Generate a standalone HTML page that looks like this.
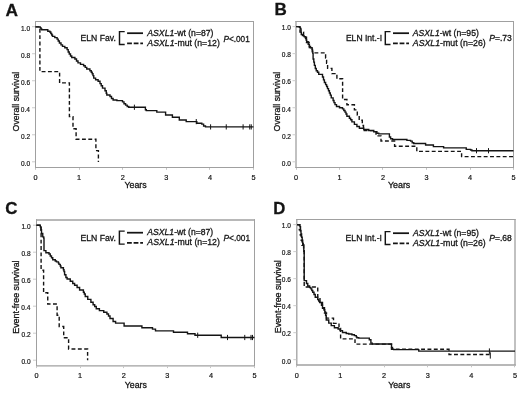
<!DOCTYPE html>
<html><head><meta charset="utf-8"><style>
html,body{margin:0;padding:0;background:#fff;}
svg{display:block;will-change:transform;}
text{font-family:"Liberation Sans",sans-serif;}
</style></head><body>
<svg width="520" height="393" viewBox="0 0 520 393">
<rect width="520" height="393" fill="#fff"/>
<text transform="translate(5.47,15.90) scale(1.0008,1)" font-size="17.3" fill="#141414" stroke="#141414" stroke-width="0.3"><tspan font-weight="bold">A</tspan></text>
<text transform="translate(274.39,15.10) scale(0.9855,1)" font-size="17.3" fill="#141414" stroke="#141414" stroke-width="0.3"><tspan font-weight="bold">B</tspan></text>
<text transform="translate(5.22,213.70) scale(0.9796,1)" font-size="17.3" fill="#141414" stroke="#141414" stroke-width="0.3"><tspan font-weight="bold">C</tspan></text>
<text transform="translate(273.21,213.70) scale(0.9681,1)" font-size="17.3" fill="#141414" stroke="#141414" stroke-width="0.3"><tspan font-weight="bold">D</tspan></text>
<line x1="35.5" y1="21.0" x2="35.5" y2="168.0" stroke="#a0a0a0" stroke-width="1"/>
<line x1="253.5" y1="21.0" x2="253.5" y2="168.0" stroke="#a0a0a0" stroke-width="1"/>
<line x1="35.0" y1="21.5" x2="254.0" y2="21.5" stroke="#a0a0a0" stroke-width="1"/>
<line x1="35.0" y1="167.5" x2="254.0" y2="167.5" stroke="#a0a0a0" stroke-width="1"/>
<line x1="35.5" y1="168.0" x2="35.5" y2="169.8" stroke="#c4c4c4" stroke-width="1"/>
<text transform="translate(33.47,179.60) scale(1.0000,1)" font-size="7.3" fill="#141414" stroke="#141414" stroke-width="0.2"><tspan>0</tspan></text>
<line x1="79.5" y1="168.0" x2="79.5" y2="169.8" stroke="#c4c4c4" stroke-width="1"/>
<text transform="translate(76.98,179.60) scale(1.0000,1)" font-size="7.3" fill="#141414" stroke="#141414" stroke-width="0.2"><tspan>1</tspan></text>
<line x1="122.5" y1="168.0" x2="122.5" y2="169.8" stroke="#c4c4c4" stroke-width="1"/>
<text transform="translate(120.67,179.60) scale(1.0000,1)" font-size="7.3" fill="#141414" stroke="#141414" stroke-width="0.2"><tspan>2</tspan></text>
<line x1="166.5" y1="168.0" x2="166.5" y2="169.8" stroke="#c4c4c4" stroke-width="1"/>
<text transform="translate(164.29,179.60) scale(1.0000,1)" font-size="7.3" fill="#141414" stroke="#141414" stroke-width="0.2"><tspan>3</tspan></text>
<line x1="209.5" y1="168.0" x2="209.5" y2="169.8" stroke="#c4c4c4" stroke-width="1"/>
<text transform="translate(207.89,179.60) scale(1.0000,1)" font-size="7.3" fill="#141414" stroke="#141414" stroke-width="0.2"><tspan>4</tspan></text>
<line x1="253.5" y1="168.0" x2="253.5" y2="169.8" stroke="#c4c4c4" stroke-width="1"/>
<text transform="translate(251.47,179.60) scale(1.0000,1)" font-size="7.3" fill="#141414" stroke="#141414" stroke-width="0.2"><tspan>5</tspan></text>
<line x1="32.0" y1="161.8" x2="35.0" y2="161.8" stroke="#cccccc" stroke-width="1"/>
<text transform="translate(20.93,165.60) scale(0.9000,1)" font-size="7.3" fill="#141414" stroke="#141414" stroke-width="0.2"><tspan>0.0</tspan></text>
<line x1="32.0" y1="134.78" x2="35.0" y2="134.78" stroke="#cccccc" stroke-width="1"/>
<text transform="translate(21.00,138.58) scale(0.9000,1)" font-size="7.3" fill="#141414" stroke="#141414" stroke-width="0.2"><tspan>0.2</tspan></text>
<line x1="32.0" y1="107.75999999999999" x2="35.0" y2="107.75999999999999" stroke="#cccccc" stroke-width="1"/>
<text transform="translate(20.86,111.56) scale(0.9000,1)" font-size="7.3" fill="#141414" stroke="#141414" stroke-width="0.2"><tspan>0.4</tspan></text>
<line x1="32.0" y1="80.73999999999998" x2="35.0" y2="80.73999999999998" stroke="#cccccc" stroke-width="1"/>
<text transform="translate(20.96,84.54) scale(0.9000,1)" font-size="7.3" fill="#141414" stroke="#141414" stroke-width="0.2"><tspan>0.6</tspan></text>
<line x1="32.0" y1="53.719999999999985" x2="35.0" y2="53.719999999999985" stroke="#cccccc" stroke-width="1"/>
<text transform="translate(20.93,57.52) scale(0.9000,1)" font-size="7.3" fill="#141414" stroke="#141414" stroke-width="0.2"><tspan>0.8</tspan></text>
<line x1="32.0" y1="26.69999999999999" x2="35.0" y2="26.69999999999999" stroke="#cccccc" stroke-width="1"/>
<text transform="translate(20.93,30.50) scale(0.9000,1)" font-size="7.3" fill="#141414" stroke="#141414" stroke-width="0.2"><tspan>1.0</tspan></text>
<text transform="translate(19.30,131.39) rotate(-90) scale(0.9592,1)" font-size="9.1" fill="#141414" stroke="#141414" stroke-width="0.3"><tspan>Overall survival</tspan></text>
<text transform="translate(124.48,187.70) scale(0.9694,1)" font-size="9.1" fill="#141414" stroke="#141414" stroke-width="0.3"><tspan>Years</tspan></text>
<line x1="296.0" y1="21.0" x2="296.0" y2="168.0" stroke="#a0a0a0" stroke-width="1.3"/>
<line x1="513.5" y1="21.0" x2="513.5" y2="168.0" stroke="#a0a0a0" stroke-width="1"/>
<line x1="295.35" y1="21.5" x2="514.0" y2="21.5" stroke="#a0a0a0" stroke-width="1"/>
<line x1="295.35" y1="167.5" x2="514.0" y2="167.5" stroke="#a0a0a0" stroke-width="1"/>
<line x1="296.5" y1="168.0" x2="296.5" y2="169.8" stroke="#c4c4c4" stroke-width="1"/>
<text transform="translate(293.97,179.60) scale(1.0000,1)" font-size="7.3" fill="#141414" stroke="#141414" stroke-width="0.2"><tspan>0</tspan></text>
<line x1="339.5" y1="168.0" x2="339.5" y2="169.8" stroke="#c4c4c4" stroke-width="1"/>
<text transform="translate(337.38,179.60) scale(1.0000,1)" font-size="7.3" fill="#141414" stroke="#141414" stroke-width="0.2"><tspan>1</tspan></text>
<line x1="382.5" y1="168.0" x2="382.5" y2="169.8" stroke="#c4c4c4" stroke-width="1"/>
<text transform="translate(380.97,179.60) scale(1.0000,1)" font-size="7.3" fill="#141414" stroke="#141414" stroke-width="0.2"><tspan>2</tspan></text>
<line x1="426.5" y1="168.0" x2="426.5" y2="169.8" stroke="#c4c4c4" stroke-width="1"/>
<text transform="translate(424.49,179.60) scale(1.0000,1)" font-size="7.3" fill="#141414" stroke="#141414" stroke-width="0.2"><tspan>3</tspan></text>
<line x1="470.5" y1="168.0" x2="470.5" y2="169.8" stroke="#c4c4c4" stroke-width="1"/>
<text transform="translate(467.99,179.60) scale(1.0000,1)" font-size="7.3" fill="#141414" stroke="#141414" stroke-width="0.2"><tspan>4</tspan></text>
<line x1="513.5" y1="168.0" x2="513.5" y2="169.8" stroke="#c4c4c4" stroke-width="1"/>
<text transform="translate(511.47,179.60) scale(1.0000,1)" font-size="7.3" fill="#141414" stroke="#141414" stroke-width="0.2"><tspan>5</tspan></text>
<line x1="292.5" y1="161.8" x2="295.5" y2="161.8" stroke="#cccccc" stroke-width="1"/>
<text transform="translate(281.83,165.60) scale(0.9000,1)" font-size="7.3" fill="#141414" stroke="#141414" stroke-width="0.2"><tspan>0.0</tspan></text>
<line x1="292.5" y1="134.76" x2="295.5" y2="134.76" stroke="#cccccc" stroke-width="1"/>
<text transform="translate(281.90,138.56) scale(0.9000,1)" font-size="7.3" fill="#141414" stroke="#141414" stroke-width="0.2"><tspan>0.2</tspan></text>
<line x1="292.5" y1="107.72" x2="295.5" y2="107.72" stroke="#cccccc" stroke-width="1"/>
<text transform="translate(281.76,111.52) scale(0.9000,1)" font-size="7.3" fill="#141414" stroke="#141414" stroke-width="0.2"><tspan>0.4</tspan></text>
<line x1="292.5" y1="80.67999999999999" x2="295.5" y2="80.67999999999999" stroke="#cccccc" stroke-width="1"/>
<text transform="translate(281.86,84.48) scale(0.9000,1)" font-size="7.3" fill="#141414" stroke="#141414" stroke-width="0.2"><tspan>0.6</tspan></text>
<line x1="292.5" y1="53.639999999999986" x2="295.5" y2="53.639999999999986" stroke="#cccccc" stroke-width="1"/>
<text transform="translate(281.83,57.44) scale(0.9000,1)" font-size="7.3" fill="#141414" stroke="#141414" stroke-width="0.2"><tspan>0.8</tspan></text>
<line x1="292.5" y1="26.599999999999994" x2="295.5" y2="26.599999999999994" stroke="#cccccc" stroke-width="1"/>
<text transform="translate(281.83,30.40) scale(0.9000,1)" font-size="7.3" fill="#141414" stroke="#141414" stroke-width="0.2"><tspan>1.0</tspan></text>
<text transform="translate(280.20,131.39) rotate(-90) scale(0.9592,1)" font-size="9.1" fill="#141414" stroke="#141414" stroke-width="0.3"><tspan>Overall survival</tspan></text>
<text transform="translate(387.88,187.70) scale(0.9783,1)" font-size="9.1" fill="#141414" stroke="#141414" stroke-width="0.3"><tspan>Years</tspan></text>
<line x1="36.5" y1="219.2" x2="36.5" y2="366.45" stroke="#a0a0a0" stroke-width="1"/>
<line x1="254.5" y1="219.2" x2="254.5" y2="366.45" stroke="#a0a0a0" stroke-width="1"/>
<line x1="36.0" y1="220.0" x2="255.0" y2="220.0" stroke="#a0a0a0" stroke-width="1.6"/>
<line x1="36.0" y1="365.8" x2="255.0" y2="365.8" stroke="#a0a0a0" stroke-width="1.3"/>
<line x1="36.5" y1="366.3" x2="36.5" y2="368.1" stroke="#c4c4c4" stroke-width="1"/>
<text transform="translate(34.47,377.70) scale(1.0000,1)" font-size="7.3" fill="#141414" stroke="#141414" stroke-width="0.2"><tspan>0</tspan></text>
<line x1="80.5" y1="366.3" x2="80.5" y2="368.1" stroke="#c4c4c4" stroke-width="1"/>
<text transform="translate(77.98,377.70) scale(1.0000,1)" font-size="7.3" fill="#141414" stroke="#141414" stroke-width="0.2"><tspan>1</tspan></text>
<line x1="123.5" y1="366.3" x2="123.5" y2="368.1" stroke="#c4c4c4" stroke-width="1"/>
<text transform="translate(121.67,377.70) scale(1.0000,1)" font-size="7.3" fill="#141414" stroke="#141414" stroke-width="0.2"><tspan>2</tspan></text>
<line x1="167.5" y1="366.3" x2="167.5" y2="368.1" stroke="#c4c4c4" stroke-width="1"/>
<text transform="translate(165.29,377.70) scale(1.0000,1)" font-size="7.3" fill="#141414" stroke="#141414" stroke-width="0.2"><tspan>3</tspan></text>
<line x1="210.5" y1="366.3" x2="210.5" y2="368.1" stroke="#c4c4c4" stroke-width="1"/>
<text transform="translate(208.89,377.70) scale(1.0000,1)" font-size="7.3" fill="#141414" stroke="#141414" stroke-width="0.2"><tspan>4</tspan></text>
<line x1="254.5" y1="366.3" x2="254.5" y2="368.1" stroke="#c4c4c4" stroke-width="1"/>
<text transform="translate(252.47,377.70) scale(1.0000,1)" font-size="7.3" fill="#141414" stroke="#141414" stroke-width="0.2"><tspan>5</tspan></text>
<line x1="33.0" y1="360.2" x2="36.0" y2="360.2" stroke="#cccccc" stroke-width="1"/>
<text transform="translate(21.43,364.00) scale(0.9000,1)" font-size="7.3" fill="#141414" stroke="#141414" stroke-width="0.2"><tspan>0.0</tspan></text>
<line x1="33.0" y1="333.2" x2="36.0" y2="333.2" stroke="#cccccc" stroke-width="1"/>
<text transform="translate(21.50,337.00) scale(0.9000,1)" font-size="7.3" fill="#141414" stroke="#141414" stroke-width="0.2"><tspan>0.2</tspan></text>
<line x1="33.0" y1="306.2" x2="36.0" y2="306.2" stroke="#cccccc" stroke-width="1"/>
<text transform="translate(21.36,310.00) scale(0.9000,1)" font-size="7.3" fill="#141414" stroke="#141414" stroke-width="0.2"><tspan>0.4</tspan></text>
<line x1="33.0" y1="279.2" x2="36.0" y2="279.2" stroke="#cccccc" stroke-width="1"/>
<text transform="translate(21.46,283.00) scale(0.9000,1)" font-size="7.3" fill="#141414" stroke="#141414" stroke-width="0.2"><tspan>0.6</tspan></text>
<line x1="33.0" y1="252.2" x2="36.0" y2="252.2" stroke="#cccccc" stroke-width="1"/>
<text transform="translate(21.43,256.00) scale(0.9000,1)" font-size="7.3" fill="#141414" stroke="#141414" stroke-width="0.2"><tspan>0.8</tspan></text>
<line x1="33.0" y1="225.2" x2="36.0" y2="225.2" stroke="#cccccc" stroke-width="1"/>
<text transform="translate(21.43,229.00) scale(0.9000,1)" font-size="7.3" fill="#141414" stroke="#141414" stroke-width="0.2"><tspan>1.0</tspan></text>
<text transform="translate(19.30,333.71) rotate(-90) scale(0.9726,1)" font-size="9.1" fill="#141414" stroke="#141414" stroke-width="0.3"><tspan>Event-free survival</tspan></text>
<text transform="translate(124.78,388.10) scale(0.9649,1)" font-size="9.1" fill="#141414" stroke="#141414" stroke-width="0.3"><tspan>Years</tspan></text>
<line x1="296.8" y1="219.0" x2="296.8" y2="365.65" stroke="#a0a0a0" stroke-width="1.3"/>
<line x1="515.0" y1="219.0" x2="515.0" y2="365.65" stroke="#a0a0a0" stroke-width="1.3"/>
<line x1="296.15000000000003" y1="219.5" x2="515.65" y2="219.5" stroke="#a0a0a0" stroke-width="1"/>
<line x1="296.15000000000003" y1="365.0" x2="515.65" y2="365.0" stroke="#a0a0a0" stroke-width="1.3"/>
<line x1="296.5" y1="365.5" x2="296.5" y2="367.3" stroke="#c4c4c4" stroke-width="1"/>
<text transform="translate(294.77,377.70) scale(1.0000,1)" font-size="7.3" fill="#141414" stroke="#141414" stroke-width="0.2"><tspan>0</tspan></text>
<line x1="340.5" y1="365.5" x2="340.5" y2="367.3" stroke="#c4c4c4" stroke-width="1"/>
<text transform="translate(338.32,377.70) scale(1.0000,1)" font-size="7.3" fill="#141414" stroke="#141414" stroke-width="0.2"><tspan>1</tspan></text>
<line x1="384.5" y1="365.5" x2="384.5" y2="367.3" stroke="#c4c4c4" stroke-width="1"/>
<text transform="translate(382.05,377.70) scale(1.0000,1)" font-size="7.3" fill="#141414" stroke="#141414" stroke-width="0.2"><tspan>2</tspan></text>
<line x1="427.5" y1="365.5" x2="427.5" y2="367.3" stroke="#c4c4c4" stroke-width="1"/>
<text transform="translate(425.71,377.70) scale(1.0000,1)" font-size="7.3" fill="#141414" stroke="#141414" stroke-width="0.2"><tspan>3</tspan></text>
<line x1="471.5" y1="365.5" x2="471.5" y2="367.3" stroke="#c4c4c4" stroke-width="1"/>
<text transform="translate(469.35,377.70) scale(1.0000,1)" font-size="7.3" fill="#141414" stroke="#141414" stroke-width="0.2"><tspan>4</tspan></text>
<line x1="514.5" y1="365.5" x2="514.5" y2="367.3" stroke="#c4c4c4" stroke-width="1"/>
<text transform="translate(512.97,377.70) scale(1.0000,1)" font-size="7.3" fill="#141414" stroke="#141414" stroke-width="0.2"><tspan>5</tspan></text>
<line x1="293.3" y1="359.7" x2="296.3" y2="359.7" stroke="#cccccc" stroke-width="1"/>
<text transform="translate(281.83,363.50) scale(0.9000,1)" font-size="7.3" fill="#141414" stroke="#141414" stroke-width="0.2"><tspan>0.0</tspan></text>
<line x1="293.3" y1="332.68" x2="296.3" y2="332.68" stroke="#cccccc" stroke-width="1"/>
<text transform="translate(281.90,336.48) scale(0.9000,1)" font-size="7.3" fill="#141414" stroke="#141414" stroke-width="0.2"><tspan>0.2</tspan></text>
<line x1="293.3" y1="305.65999999999997" x2="296.3" y2="305.65999999999997" stroke="#cccccc" stroke-width="1"/>
<text transform="translate(281.76,309.46) scale(0.9000,1)" font-size="7.3" fill="#141414" stroke="#141414" stroke-width="0.2"><tspan>0.4</tspan></text>
<line x1="293.3" y1="278.64" x2="296.3" y2="278.64" stroke="#cccccc" stroke-width="1"/>
<text transform="translate(281.86,282.44) scale(0.9000,1)" font-size="7.3" fill="#141414" stroke="#141414" stroke-width="0.2"><tspan>0.6</tspan></text>
<line x1="293.3" y1="251.62" x2="296.3" y2="251.62" stroke="#cccccc" stroke-width="1"/>
<text transform="translate(281.83,255.42) scale(0.9000,1)" font-size="7.3" fill="#141414" stroke="#141414" stroke-width="0.2"><tspan>0.8</tspan></text>
<line x1="293.3" y1="224.6" x2="296.3" y2="224.6" stroke="#cccccc" stroke-width="1"/>
<text transform="translate(281.83,228.40) scale(0.9000,1)" font-size="7.3" fill="#141414" stroke="#141414" stroke-width="0.2"><tspan>1.0</tspan></text>
<text transform="translate(280.80,333.21) rotate(-90) scale(0.9699,1)" font-size="9.1" fill="#141414" stroke="#141414" stroke-width="0.3"><tspan>Event-free survival</tspan></text>
<text transform="translate(388.18,388.10) scale(0.9649,1)" font-size="9.1" fill="#141414" stroke="#141414" stroke-width="0.3"><tspan>Years</tspan></text>
<text transform="translate(80.61,40.70) scale(0.9447,1)" font-size="9.1" fill="#141414" stroke="#141414" stroke-width="0.3"><tspan>ELN Fav.</tspan></text>
<path d="M124.7,31.6 H119.5 V44.4 H124.7" fill="none" stroke="#141414" stroke-width="1.45"/>
<line x1="127.1" y1="33.2" x2="143.0" y2="33.2" stroke="#141414" stroke-width="1.75"/>
<line x1="127.1" y1="43.3" x2="143.0" y2="43.3" stroke="#141414" stroke-width="1.75" stroke-dasharray="4.8 1.8"/>
<text transform="translate(147.33,36.10) scale(0.9520,1)" font-size="9.1" fill="#141414" stroke="#141414" stroke-width="0.3"><tspan font-style="italic">ASXL1</tspan><tspan>-wt (n=87)</tspan></text>
<text transform="translate(147.34,46.20) scale(0.9591,1)" font-size="9.1" fill="#141414" stroke="#141414" stroke-width="0.3"><tspan font-style="italic">ASXL1</tspan><tspan>-mut (n=12)</tspan></text>
<text transform="translate(223.55,41.50) scale(0.8996,1)" font-size="9.1" fill="#141414" stroke="#141414" stroke-width="0.3"><tspan font-style="italic">P</tspan><tspan>&lt;.001</tspan></text>
<text transform="translate(345.91,40.70) scale(0.9415,1)" font-size="9.1" fill="#141414" stroke="#141414" stroke-width="0.3"><tspan>ELN Int.-I</tspan></text>
<path d="M390.5,31.6 H385.3 V44.5 H390.5" fill="none" stroke="#141414" stroke-width="1.45"/>
<line x1="393.0" y1="33.2" x2="409.0" y2="33.2" stroke="#141414" stroke-width="1.75"/>
<line x1="393.0" y1="43.3" x2="409.0" y2="43.3" stroke="#141414" stroke-width="1.75" stroke-dasharray="4.8 1.8"/>
<text transform="translate(412.83,35.70) scale(0.9506,1)" font-size="9.1" fill="#141414" stroke="#141414" stroke-width="0.3"><tspan font-style="italic">ASXL1</tspan><tspan>-wt (n=95)</tspan></text>
<text transform="translate(412.84,45.90) scale(0.9644,1)" font-size="9.1" fill="#141414" stroke="#141414" stroke-width="0.3"><tspan font-style="italic">ASXL1</tspan><tspan>-mut (n=26)</tspan></text>
<text transform="translate(489.24,41.10) scale(0.9382,1)" font-size="9.1" fill="#141414" stroke="#141414" stroke-width="0.3"><tspan font-style="italic">P</tspan><tspan>=.73</tspan></text>
<text transform="translate(80.51,240.50) scale(0.9531,1)" font-size="9.1" fill="#141414" stroke="#141414" stroke-width="0.3"><tspan>ELN Fav.</tspan></text>
<path d="M124.7,231.1 H119.4 V244.1 H124.7" fill="none" stroke="#141414" stroke-width="1.45"/>
<line x1="127.0" y1="232.7" x2="143.0" y2="232.7" stroke="#141414" stroke-width="1.75"/>
<line x1="127.0" y1="242.9" x2="143.0" y2="242.9" stroke="#141414" stroke-width="1.75" stroke-dasharray="4.8 1.8"/>
<text transform="translate(147.33,235.10) scale(0.9477,1)" font-size="9.1" fill="#141414" stroke="#141414" stroke-width="0.3"><tspan font-style="italic">ASXL1</tspan><tspan>-wt (n=87)</tspan></text>
<text transform="translate(147.34,245.20) scale(0.9605,1)" font-size="9.1" fill="#141414" stroke="#141414" stroke-width="0.3"><tspan font-style="italic">ASXL1</tspan><tspan>-mut (n=12)</tspan></text>
<text transform="translate(223.55,240.60) scale(0.9137,1)" font-size="9.1" fill="#141414" stroke="#141414" stroke-width="0.3"><tspan font-style="italic">P</tspan><tspan>&lt;.001</tspan></text>
<text transform="translate(345.61,240.80) scale(0.9470,1)" font-size="9.1" fill="#141414" stroke="#141414" stroke-width="0.3"><tspan>ELN Int.-I</tspan></text>
<path d="M390.5,231.6 H385.3 V244.5 H390.5" fill="none" stroke="#141414" stroke-width="1.45"/>
<line x1="393.0" y1="233.2" x2="409.0" y2="233.2" stroke="#141414" stroke-width="1.75"/>
<line x1="393.0" y1="243.3" x2="409.0" y2="243.3" stroke="#141414" stroke-width="1.75" stroke-dasharray="4.8 1.8"/>
<text transform="translate(412.93,235.80) scale(0.9491,1)" font-size="9.1" fill="#141414" stroke="#141414" stroke-width="0.3"><tspan font-style="italic">ASXL1</tspan><tspan>-wt (n=95)</tspan></text>
<text transform="translate(412.94,245.90) scale(0.9631,1)" font-size="9.1" fill="#141414" stroke="#141414" stroke-width="0.3"><tspan font-style="italic">ASXL1</tspan><tspan>-mut (n=26)</tspan></text>
<text transform="translate(489.24,240.50) scale(0.9364,1)" font-size="9.1" fill="#141414" stroke="#141414" stroke-width="0.3"><tspan font-style="italic">P</tspan><tspan>=.68</tspan></text>
<path d="M35.50,26.90 H40.20 V27.60 H40.90 V29.00 H41.70 V29.70 H47.10 V29.70 H47.80 V31.20 H49.80 V32.00 H50.80 V33.55 H51.70 V35.05 H52.50 V36.40 H54.80 V37.60 H57.10 V39.15 H58.20 V41.05 H59.40 V42.95 H61.00 V44.85 H62.50 V46.40 H64.80 V47.75 H67.10 V49.65 H68.20 V51.95 H69.25 V54.05 H70.50 V55.95 H71.75 V57.50 H74.90 V59.05 H76.50 V60.95 H78.00 V62.83 H80.50 V64.38 H83.60 V65.80 H85.20 V67.35 H86.75 V69.05 H89.90 V70.75 H91.25 V72.25 H92.20 V73.70 H93.00 V75.65 H93.75 V78.15 H95.60 V79.70 H98.10 V81.25 H100.00 V83.60 H101.20 V85.80 H102.50 V88.15 H105.00 V90.70 H106.25 V93.20 H106.80 V95.00 H110.00 V96.55 H111.50 V98.45 H113.10 V100.00 H116.90 V100.60 H122.50 V101.90 H124.00 V103.75 H125.60 V105.10 H127.20 V106.53 H128.75 V107.25 H144.50 V107.25 H145.40 V109.75 H146.30 V110.60 H156.25 V110.60 H156.80 V112.10 H165.00 V112.10 H165.60 V115.00 H171.90 V115.00 H172.40 V117.25 H178.75 V117.25 H179.30 V120.00 H185.60 V120.00 H186.20 V121.60 H196.25 V121.60 H196.80 V123.30 H201.80 V124.15 H203.60 V125.95 H205.50 V126.90 H253.50 V126.90" fill="none" stroke="#141414" stroke-width="1.4" stroke-linejoin="miter" stroke-linecap="butt"/>
<line x1="134.4" y1="104.65" x2="134.4" y2="109.85" stroke="#141414" stroke-width="1"/>
<line x1="196.25" y1="119.0" x2="196.25" y2="124.19999999999999" stroke="#141414" stroke-width="1"/>
<line x1="210.6" y1="124.30000000000001" x2="210.6" y2="129.5" stroke="#141414" stroke-width="1"/>
<line x1="226.25" y1="124.30000000000001" x2="226.25" y2="129.5" stroke="#141414" stroke-width="1"/>
<line x1="243.1" y1="124.30000000000001" x2="243.1" y2="129.5" stroke="#141414" stroke-width="1"/>
<line x1="249.75" y1="124.30000000000001" x2="249.75" y2="129.5" stroke="#141414" stroke-width="1"/>
<line x1="251.25" y1="124.30000000000001" x2="251.25" y2="129.5" stroke="#141414" stroke-width="1"/>
<path d="M35.50,26.90 H39.90 V71.60 H59.60 V82.90 H69.40 V116.60 H73.00 V128.75 H76.10 V139.20 H95.90 V150.60 H98.40 V161.90" fill="none" stroke="#141414" stroke-width="1.4" stroke-linejoin="miter" stroke-linecap="butt" stroke-dasharray="3.9 2.45"/>
<path d="M296.20,26.60 H299.40 V27.20 H300.20 V28.35 H300.90 V30.05 H301.10 V32.35 H301.30 V34.50 H302.50 V35.65 H304.00 V36.60 H305.50 V38.25 H306.10 V39.95 H306.70 V41.80 H308.20 V44.30 H309.40 V46.40 H310.50 V47.75 H312.10 V49.35 H312.50 V51.10 H312.80 V53.40 H313.10 V56.15 H313.10 V59.05 H313.80 V62.17 H314.40 V65.33 H315.30 V68.45 H316.25 V70.75 H317.50 V72.30 H318.75 V74.35 H322.50 V77.00 H323.50 V79.83 H324.40 V82.50 H325.60 V84.67 H326.60 V86.55 H327.50 V88.60 H328.50 V90.80 H329.40 V92.95 H330.30 V95.12 H331.25 V97.83 H333.10 V100.45 H334.00 V102.62 H335.00 V104.67 H336.50 V106.55 H339.50 V107.80 H342.50 V108.90 H343.80 V110.47 H345.00 V112.17 H346.00 V114.05 H346.90 V116.25 H349.40 V118.25 H350.60 V119.80 H351.90 V121.85 H354.40 V124.35 H356.90 V126.55 H359.40 V128.25 H363.75 V129.50 H368.75 V130.45 H373.75 V131.82 H376.90 V133.32 H378.75 V133.90 H387.50 V133.90 H389.40 V136.95 H390.60 V138.80 H392.50 V139.50 H405.60 V139.50 H406.90 V140.40 H410.60 V141.15 H412.20 V142.70 H413.75 V143.50 H424.40 V143.50 H425.60 V145.00 H432.20 V145.00 H433.40 V146.60 H442.50 V146.60 H443.60 V147.90 H465.00 V147.90 H466.25 V149.40 H470.60 V150.05 H471.90 V150.70 H513.50 V150.70" fill="none" stroke="#141414" stroke-width="1.4" stroke-linejoin="miter" stroke-linecap="butt"/>
<line x1="476.5" y1="148.1" x2="476.5" y2="153.29999999999998" stroke="#141414" stroke-width="1"/>
<line x1="488.5" y1="148.1" x2="488.5" y2="153.29999999999998" stroke="#141414" stroke-width="1"/>
<path d="M296.20,26.60 H300.00 V32.09 H303.60 V37.28 H306.50 V42.47 H309.30 V47.65 H312.30 V52.84 H325.60 V58.03 H326.60 V63.22 H327.60 V68.41 H331.90 V73.60 H336.90 V78.78 H342.60 V99.54 H346.90 V104.73 H354.40 V109.92 H357.30 V115.10 H359.20 V120.29 H362.30 V125.48 H363.50 V130.67 H376.00 V135.86 H381.00 V141.05 H394.60 V146.23 H416.80 V151.42 H461.60 V156.61 H513.50" fill="none" stroke="#141414" stroke-width="1.4" stroke-linejoin="miter" stroke-linecap="butt" stroke-dasharray="3.9 2.45"/>
<path d="M36.50,225.25 H40.25 V226.72 H40.90 V229.72 H41.50 V233.43 H42.75 V236.85 H43.75 V238.10 H44.00 V250.60 H45.90 V252.80 H49.00 V254.05 H50.25 V255.95 H51.50 V257.82 H52.75 V259.68 H55.25 V260.93 H56.50 V261.88 H58.40 V263.12 H59.00 V264.38 H60.25 V265.95 H60.90 V267.82 H63.40 V269.68 H64.00 V271.55 H64.60 V274.70 H65.90 V277.50 H67.10 V279.05 H70.25 V281.25 H72.75 V283.45 H74.60 V285.32 H77.10 V287.50 H79.60 V290.00 H83.40 V292.18 H84.30 V294.05 H85.25 V296.55 H87.75 V299.35 H90.90 V302.18 H93.10 V304.68 H94.70 V306.55 H96.25 V308.75 H99.40 V310.62 H103.75 V312.18 H106.90 V314.05 H108.50 V315.95 H110.00 V318.45 H113.10 V321.55 H115.60 V323.10 H124.10 V326.00 H141.90 V327.75 H152.50 V329.10 H155.50 V330.90 H173.50 V332.25 H187.50 V333.75 H195.00 V335.25 H221.20 V337.50 H254.50 V337.50" fill="none" stroke="#141414" stroke-width="1.4" stroke-linejoin="miter" stroke-linecap="butt"/>
<line x1="197.7" y1="332.65" x2="197.7" y2="337.85" stroke="#141414" stroke-width="1"/>
<line x1="227.5" y1="334.9" x2="227.5" y2="340.1" stroke="#141414" stroke-width="1"/>
<line x1="244.75" y1="334.9" x2="244.75" y2="340.1" stroke="#141414" stroke-width="1"/>
<line x1="251" y1="334.9" x2="251" y2="340.1" stroke="#141414" stroke-width="1"/>
<line x1="252.5" y1="334.9" x2="252.5" y2="340.1" stroke="#141414" stroke-width="1"/>
<path d="M36.50,225.25 H41.10 V270.20 H43.60 V292.70 H47.75 V304.00 H57.10 V315.20 H59.20 V326.50 H63.70 V337.70 H68.60 V349.00 H87.60 V360.20" fill="none" stroke="#141414" stroke-width="1.4" stroke-linejoin="miter" stroke-linecap="butt" stroke-dasharray="3.9 2.45"/>
<path d="M297.00,224.75 H300.00 V226.68 H300.50 V230.55 H301.00 V234.05 H301.60 V237.18 H302.20 V240.32 H302.70 V243.45 H303.20 V245.00 H303.80 V251.25 H304.20 V280.60 H306.50 V283.45 H307.75 V285.95 H309.60 V287.50 H310.90 V288.90 H311.80 V290.48 H312.75 V292.32 H314.00 V294.50 H315.25 V297.18 H317.75 V299.52 H318.70 V301.10 H319.60 V302.50 H321.50 V305.30 H322.50 V308.25 H324.00 V310.00 H324.80 V312.05 H325.60 V315.60 H326.25 V320.00 H328.75 V323.15 H331.25 V325.65 H334.40 V327.82 H338.10 V329.07 H340.00 V330.65 H342.50 V332.50 H346.25 V333.43 H348.75 V334.07 H351.90 V334.70 H354.40 V335.62 H356.25 V336.88 H356.90 V337.80 H358.75 V338.10 H369.30 V339.80 H370.90 V343.10 H372.30 V344.00 H390.60 V344.00 H391.50 V347.57 H392.50 V349.18 H393.75 V349.60 H418.10 V349.60 H418.75 V351.10 H515.00 V351.10" fill="none" stroke="#141414" stroke-width="1.4" stroke-linejoin="miter" stroke-linecap="butt"/>
<line x1="489.4" y1="348.4" x2="489.4" y2="353.8" stroke="#141414" stroke-width="1"/>
<path d="M297.00,224.60 H299.30 V229.80 H300.30 V234.99 H301.20 V240.19 H302.00 V245.38 H302.80 V242.79 H303.60 V250.58 H304.20 V286.95 H317.75 V297.35 H320.00 V302.54 H322.50 V307.74 H324.50 V312.93 H326.50 V318.13 H333.50 V323.33 H339.00 V328.52 H340.60 V338.92 H355.00 V344.11 H391.50 V349.31 H449.00 V354.50 H490.30" fill="none" stroke="#141414" stroke-width="1.4" stroke-linejoin="miter" stroke-linecap="butt" stroke-dasharray="3.9 2.45"/>
<line x1="490.3" y1="352.3" x2="490.3" y2="358.6" stroke="#141414" stroke-width="1"/>
</svg>
</body></html>
